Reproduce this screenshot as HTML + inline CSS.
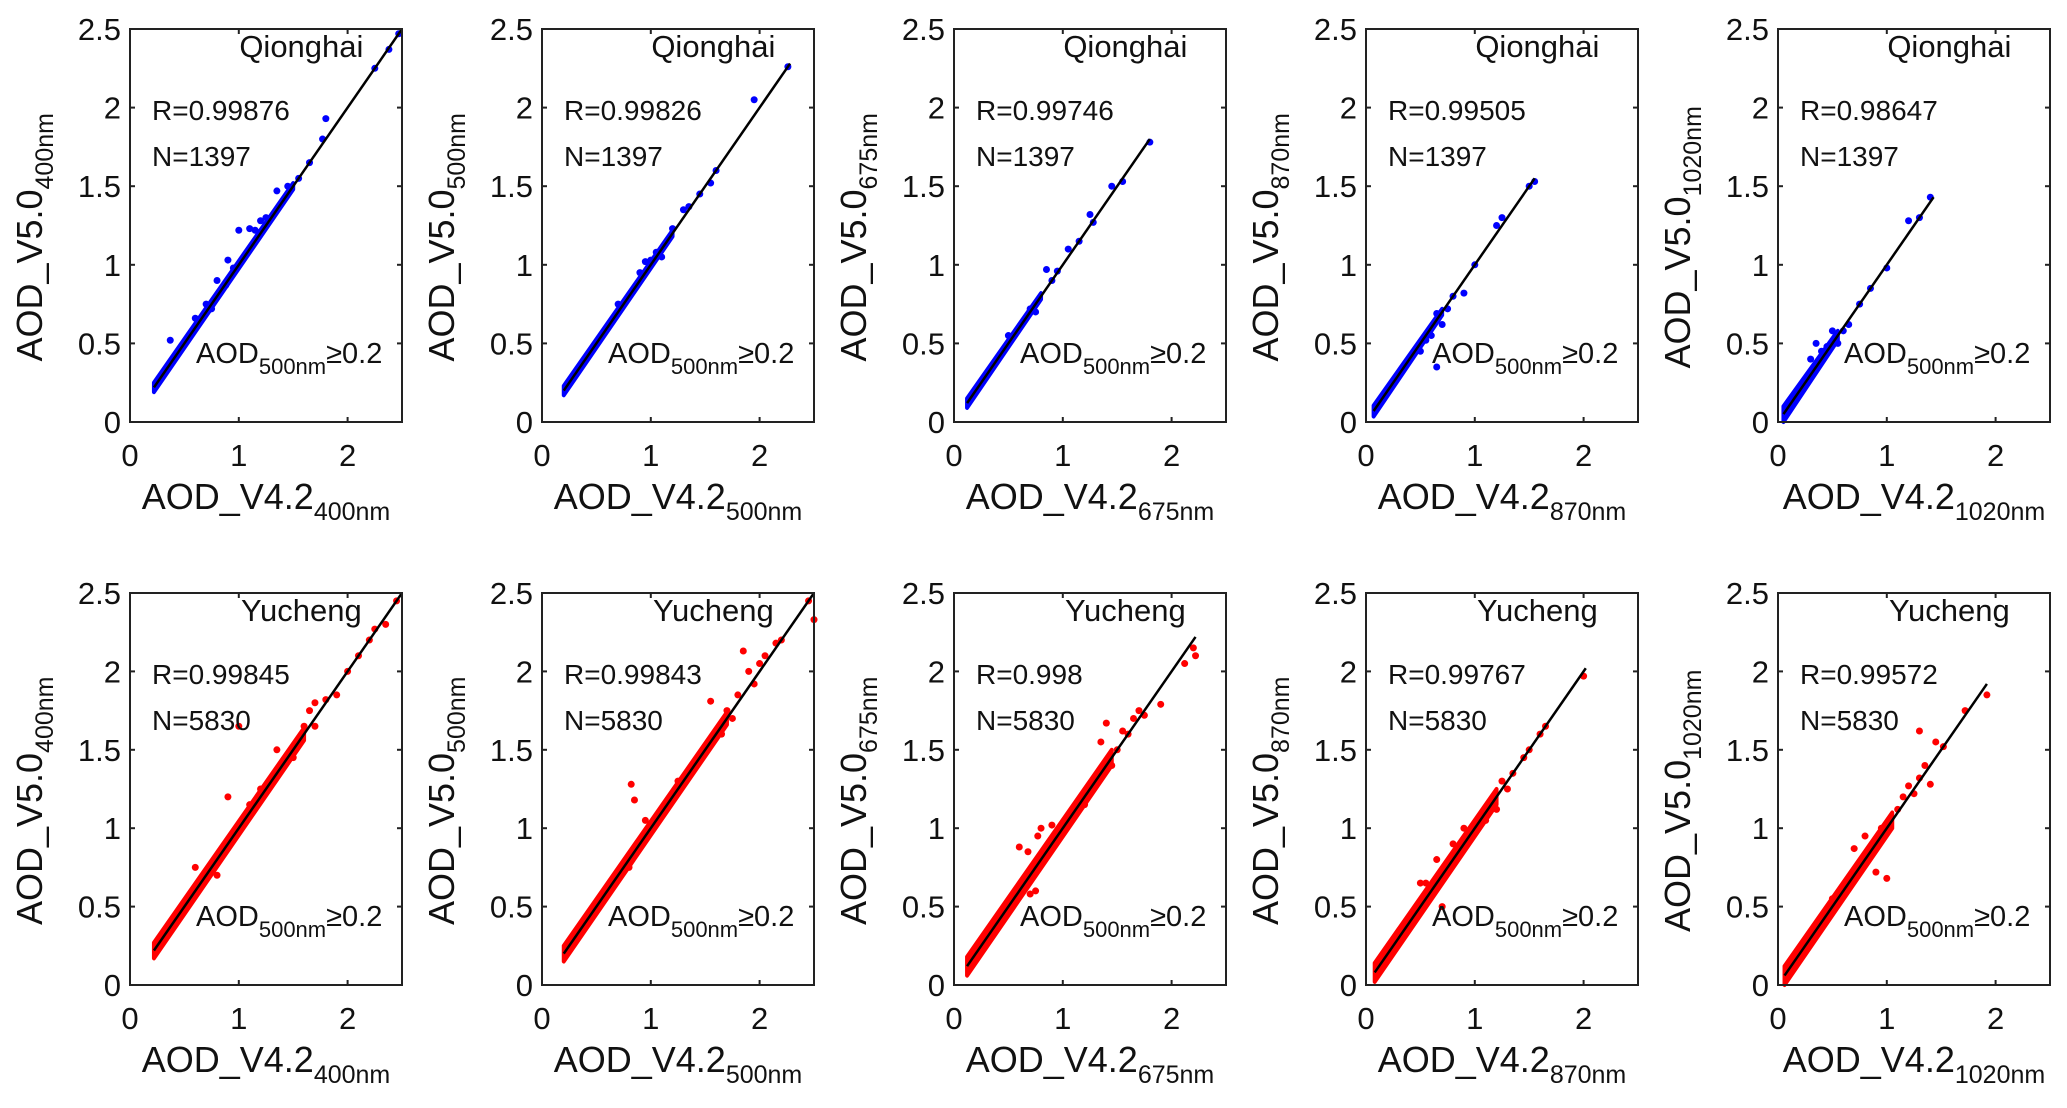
<!DOCTYPE html>
<html><head><meta charset="utf-8"><style>
html,body{margin:0;padding:0;background:#fff;}
svg{display:block;font-family:"Liberation Sans",sans-serif;}
</style></head><body>
<svg id="fig" width="2067" height="1108" viewBox="0 0 2067 1108" xmlns="http://www.w3.org/2000/svg"></svg>
<script>
const panelSites = ["Qionghai","Qionghai","Qionghai","Qionghai","Qionghai","Yucheng","Yucheng","Yucheng","Yucheng","Yucheng"];
const panelWaves = ["400nm","500nm","675nm","870nm","1020nm","400nm","500nm","675nm","870nm","1020nm"];
const panelR = ["R=0.99876","R=0.99826","R=0.99746","R=0.99505","R=0.98647","R=0.99845","R=0.99843","R=0.998","R=0.99767","R=0.99572"];
const panelN = ["N=1397","N=1397","N=1397","N=1397","N=1397","N=5830","N=5830","N=5830","N=5830","N=5830"];
const xTicks = [0,1,2];
const yTicks = [0,0.5,1,1.5,2,2.5];
const yTickLabels = ["0","0.5","1","1.5","2","2.5"];
// fit line start/end (x values) and slope
const fitX0 = [0.22,0.2,0.12,0.07,0.05,0.22,0.2,0.12,0.08,0.06];
const fitX1 = [2.5,2.28,1.8,1.55,1.43,2.5,2.5,2.22,2.02,1.92];
const fitSlope = [1.0,1.0,1.0,1.0,1.0,1.0,1.0,1.0,1.0,1.0];
// dense cloud: x extent and half-width in y at start / end
const cloudX1 = [1.5,1.2,0.8,0.7,0.55,1.6,1.7,1.45,1.2,1.05];
const cloudHalf0 = [0.03,0.03,0.03,0.035,0.05,0.05,0.05,0.06,0.06,0.06];
const cloudHalf1 = [0.02,0.02,0.02,0.02,0.03,0.04,0.04,0.05,0.05,0.05];
// outlier / scattered points [x,y]
const pts = [
 [[0.37,0.52],[1.0,1.22],[1.1,1.23],[1.15,1.22],[1.35,1.47],[0.9,1.03],[0.88,0.87],[1.8,1.93],[1.77,1.8],[2.25,2.25],[2.38,2.37],[2.47,2.47],[0.75,0.72],[0.8,0.9],[1.25,1.3],[1.45,1.5],[1.65,1.65],[0.6,0.66],[0.7,0.75],[1.55,1.55],[1.2,1.28],[0.95,0.98]],
 [[0.95,1.02],[1.0,1.03],[1.1,1.05],[1.6,1.6],[1.55,1.52],[1.95,2.05],[2.26,2.26],[0.7,0.75],[0.85,0.85],[1.2,1.23],[1.35,1.37],[1.3,1.35],[1.45,1.45],[1.05,1.08],[0.9,0.95]],
 [[0.85,0.97],[0.95,0.96],[0.75,0.7],[1.25,1.32],[1.28,1.27],[1.45,1.5],[1.55,1.53],[1.8,1.78],[0.6,0.6],[1.05,1.1],[0.7,0.72],[0.9,0.9],[1.15,1.15],[0.5,0.55]],
 [[0.55,0.52],[0.65,0.69],[0.8,0.8],[0.9,0.82],[1.2,1.25],[1.25,1.3],[1.5,1.5],[1.55,1.53],[0.65,0.35],[0.7,0.62],[0.5,0.45],[0.6,0.55],[0.75,0.72],[1.0,1.0]],
 [[0.5,0.58],[0.6,0.58],[0.75,0.75],[0.85,0.85],[1.0,0.98],[1.2,1.28],[1.3,1.3],[1.4,1.43],[0.45,0.48],[0.35,0.5],[0.4,0.45],[0.55,0.5],[0.3,0.4],[0.65,0.62]],
 [[1.0,1.65],[0.9,1.2],[1.2,1.25],[1.35,1.5],[1.5,1.45],[1.7,1.8],[1.9,1.85],[2.0,2.0],[2.2,2.2],[2.35,2.3],[2.45,2.45],[0.6,0.75],[0.8,0.7],[1.1,1.15],[1.6,1.65],[2.1,2.1],[1.7,1.65],[1.8,1.82],[1.65,1.75],[2.25,2.27],[1.4,1.38]],
 [[0.82,1.28],[0.85,1.18],[0.62,0.62],[1.55,1.81],[1.85,2.13],[1.9,2.0],[2.0,2.05],[2.2,2.2],[2.45,2.45],[2.5,2.33],[1.75,1.7],[1.45,1.45],[1.25,1.3],[0.95,1.05],[0.8,0.75],[1.65,1.6],[1.8,1.85],[1.7,1.75],[2.05,2.1],[1.95,1.92],[2.15,2.18]],
 [[0.6,0.88],[0.68,0.85],[0.77,0.95],[0.8,1.0],[0.75,0.6],[0.7,0.58],[1.4,1.67],[1.35,1.55],[1.5,1.5],[1.7,1.75],[1.9,1.79],[2.12,2.05],[2.2,2.15],[2.22,2.1],[1.2,1.15],[1.05,1.05],[1.6,1.6],[1.55,1.62],[1.65,1.7],[1.75,1.72],[1.45,1.4],[0.9,1.02]],
 [[0.5,0.65],[0.65,0.8],[0.8,0.9],[1.0,0.98],[1.1,1.05],[1.3,1.25],[1.45,1.45],[1.6,1.6],[1.65,1.65],[2.0,1.97],[0.7,0.5],[0.55,0.65],[0.9,1.0],[1.25,1.3],[1.35,1.35],[1.5,1.5],[1.2,1.12]],
 [[1.3,1.62],[1.45,1.55],[1.52,1.52],[1.72,1.75],[1.92,1.85],[1.35,1.4],[1.3,1.32],[1.4,1.28],[1.0,0.68],[0.9,0.72],[1.2,1.27],[0.7,0.87],[0.8,0.95],[0.5,0.55],[1.1,1.12],[1.15,1.2],[1.25,1.22],[0.95,1.0]]
];
const colors = ["#0000ff","#ff0000"];
const boxX = [130,542,954,1366,1778];
const boxY = [29,593];
const boxH = [393,392];
const boxW = 272;
const NS="http://www.w3.org/2000/svg";
const svg=document.getElementById('fig');
function mk(tag,attrs,parent){const e=document.createElementNS(NS,tag);for(const k in attrs)e.setAttribute(k,attrs[k]);(parent||svg).appendChild(e);return e;}
for(let p=0;p<10;p++){
  const row=Math.floor(p/5), col=p%5;
  const X0=boxX[col], Y0=boxY[row], H=boxH[row], W=boxW;
  const sx=v=>X0+v/2.5*W, sy=v=>Y0+H-v/2.5*H;
  const g=mk('g',{});
  
  
  const col1=colors[row];
  const a=fitX0[p], b=cloudX1[p], s=fitSlope[p];
  const band=mk('polygon',{points:[[a,a*s+cloudHalf0[p]],[b,b*s+cloudHalf1[p]],[b,b*s-cloudHalf1[p]],[a,a*s-cloudHalf0[p]]].map(q=>sx(q[0])+','+sy(q[1])).join(' '),fill:col1,stroke:col1,'stroke-width':4,'stroke-linejoin':'round'},g);
  
  
  for(const q of pts[p]){
    const c=mk('circle',{cx:sx(q[0]),cy:sy(q[1]),r:3.5,fill:col1},g);
    
    
  }
  const gl=mk('line',{x1:sx(fitX0[p]),y1:sy(fitX0[p]),x2:sx(fitX1[p]),y2:sy(fitX1[p]),stroke:'#8fd08f','stroke-width':1},g);
  
  
  const fl=mk('line',{x1:sx(fitX0[p]),y1:sy(fitX0[p]*s),x2:sx(fitX1[p]),y2:sy(fitX1[p]*s),stroke:'#000','stroke-width':2.5},g);
  
  
  const box=mk('rect',{x:X0,y:Y0,width:W,height:H,fill:'none',stroke:'#222','stroke-width':2},g);
  
  
  yTicks.forEach((v,i)=>{
    mk('line',{x1:X0,x2:X0+5,y1:sy(v),y2:sy(v),stroke:'#222','stroke-width':2},g);
    mk('line',{x1:X0+W,x2:X0+W-5,y1:sy(v),y2:sy(v),stroke:'#222','stroke-width':2},g);
    const t=mk('text',{x:X0-9,y:sy(v)+11,'text-anchor':'end','font-size':31,fill:'#111'},g);
    t.textContent=yTickLabels[i];
    
    
  });
  xTicks.forEach(v=>{
    mk('line',{x1:sx(v),x2:sx(v),y1:Y0+H,y2:Y0+H-5,stroke:'#222','stroke-width':2},g);
    mk('line',{x1:sx(v),x2:sx(v),y1:Y0,y2:Y0+5,stroke:'#222','stroke-width':2},g);
    const t=mk('text',{x:sx(v),y:Y0+H+44,'text-anchor':'middle','font-size':31,fill:'#111'},g);
    t.textContent=String(v);
    
    
  });
  const xl=mk('text',{x:X0+W*0.5,y:Y0+H+87,'text-anchor':'middle','font-size':36,fill:'#111'},g);
  xl.innerHTML='AOD_V4.2<tspan font-size="25" dy="11">'+panelWaves[p]+'</tspan>';
  
  
  const yx=X0-88, yy=Y0+H*0.53;
  const yl=mk('text',{x:yx,y:yy,'text-anchor':'middle','font-size':36,fill:'#111',transform:'rotate(-90 '+yx+' '+yy+')'},g);
  yl.innerHTML='AOD_V5.0<tspan font-size="25" dy="11">'+panelWaves[p]+'</tspan>';
  
  
  const st=mk('text',{x:X0+W*0.63,y:Y0+28,'text-anchor':'middle','font-size':31,fill:'#111'},g);
  st.textContent=panelSites[p];
  
  
  const rt=mk('text',{x:X0+22,y:Y0+91,'font-size':28,fill:'#111'},g);
  rt.textContent=panelR[p];
  
  
  const nt=mk('text',{x:X0+22,y:Y0+137,'font-size':28,fill:'#111'},g);
  nt.textContent=panelN[p];
  
  
  const at=mk('text',{x:X0+66,y:Y0+H*0.85,'font-size':29,fill:'#111'},g);
  at.innerHTML='AOD<tspan font-size="22" dy="11">500nm</tspan><tspan dy="-11">≥0.2</tspan>';
  
  
}
</script>
</body></html>
